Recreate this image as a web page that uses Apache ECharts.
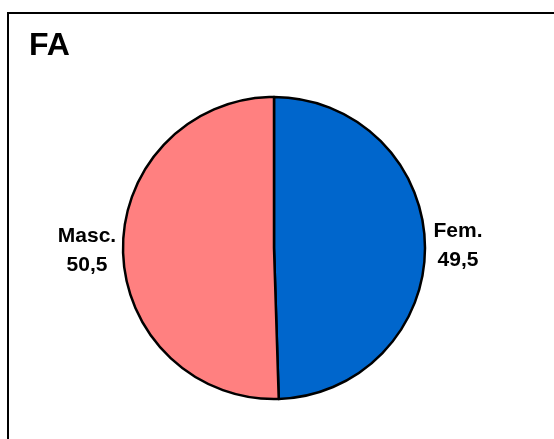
<!DOCTYPE html>
<html>
<head>
<meta charset="utf-8">
<script src="https://cdn.jsdelivr.net/npm/echarts@6/dist/echarts.min.js"></script>
<style>
html,body{margin:0;padding:0;background:#fff;}
#chart{width:554px;height:439px;}
</style>
</head>
<body>
<div id="chart"></div>
<script>
// data
const titleText = 'FA';
const categories = ['Fem.', 'Masc.'];
const values = [49.5, 50.5];
const colors = ['#0066CC', '#FF8080'];

const labelGap = [0, 3];
const pieData = categories.map(function (name, i) {
	return {name: name, value: values[i], itemStyle: {color: colors[i]},
		labelLine: {show: false, length: labelGap[i], length2: 0}};
});

let myChart = echarts.init(document.getElementById('chart'), null, {renderer: 'canvas'});
let option = {
	animation: false,
	backgroundColor: '#fff',
	title: {
		text: titleText,
		left: 24,
		top: 25,
		textStyle: {fontFamily: 'Liberation Sans', fontWeight: 'bold', fontSize: 32, color: '#000'}
	},
	graphic: [{
		type: 'rect',
		shape: {x: 8, y: 13, width: 600, height: 500},
		style: {fill: 'none', stroke: '#000', lineWidth: 2},
		z: -1
	}],
	series: [{
		type: 'pie',
		center: [274, 248],
		radius: [0, 151],
		startAngle: 90,
		clockwise: true,
		data: pieData,
		itemStyle: {borderColor: '#000', borderWidth: 2.5},
		label: {
			show: true,
			position: 'outside',
			formatter: function (p) {
				return '{a|' + p.name + '}\n{a|' + String(p.value).replace('.', ',') + '}';
			},
			rich: {
				a: {
					fontFamily: 'Liberation Sans', fontWeight: 'bold', fontSize: 21,
					color: '#000', width: 56, align: 'center', lineHeight: 29
				}
			}
		},
		labelLine: {show: false, length: 5, length2: 0},
		emphasis: {disabled: true}
	}]
};
myChart.setOption(option);
</script>
</body>
</html>
